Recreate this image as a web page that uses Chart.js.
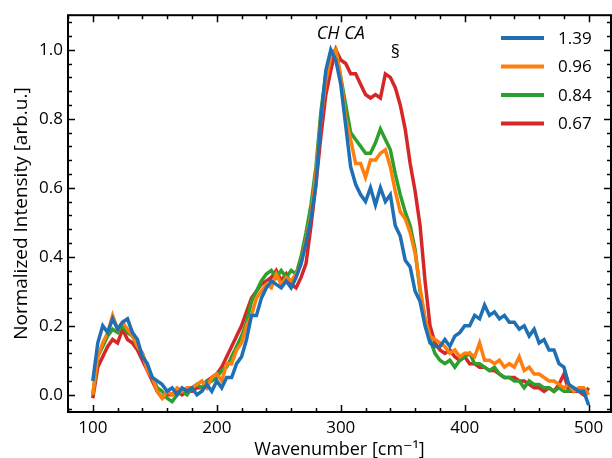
<!DOCTYPE html>
<html>
<head>
<meta charset="utf-8">
<script src="https://cdn.jsdelivr.net/npm/chart.js@4.4.1/dist/chart.umd.min.js"></script>
<style>
  html, body { margin: 0; padding: 0; background: #fff; }
  #wrap { width: 612px; height: 458px; }
</style>
</head>
<body>
<div id="wrap"><canvas id="chart" width="612" height="458"></canvas></div>
<script>
// wavenumber grid (cm^-1)
const wavenumber = [
  100,104,108,112,116,120,124,128,132,136,
  140,144,148,152,156,160,164,168,172,176,
  180,184,188,192,196,200,204,208,212,216,
  220,224,228,232,236,240,244,248,252,256,
  260,264,268,272,276,280,284,288,292,296,
  300,304,308,312,316,320,324,328,332,336,
  340,344,348,352,356,360,364,368,372,376,
  380,384,388,392,396,400,404,408,412,416,
  420,424,428,432,436,440,444,448,452,456,
  460,464,468,472,476,480,484,488,492,496,
  500
]

const s139 = [
  0.04,0.15,0.20,0.18,0.22,0.19,0.21,0.22,0.18,0.16,
  0.11,0.09,0.05,0.04,0.03,0.01,0.02,0.00,0.02,0.01,
  0.02,0.00,0.01,0.03,0.01,0.04,0.02,0.05,0.05,0.09,
  0.11,0.16,0.23,0.23,0.28,0.31,0.33,0.32,0.31,0.33,
  0.31,0.34,0.38,0.44,0.51,0.61,0.80,0.94,1.00,0.97,
  0.90,0.78,0.66,0.61,0.58,0.56,0.60,0.55,0.60,0.56,
  0.58,0.49,0.46,0.39,0.37,0.30,0.27,0.20,0.15,0.14,
  0.14,0.16,0.14,0.17,0.18,0.20,0.20,0.23,0.22,0.26,
  0.23,0.24,0.22,0.23,0.21,0.21,0.19,0.20,0.17,0.19,
  0.15,0.16,0.13,0.13,0.09,0.08,0.03,0.02,0.01,0.01,
  -0.03
]

const s096 = [
  0.00,0.11,0.15,0.18,0.23,0.19,0.21,0.19,0.17,0.14,
  0.12,0.07,0.05,0.01,-0.01,0.01,0.00,0.02,0.01,0.02,
  0.02,0.03,0.04,0.02,0.05,0.06,0.04,0.09,0.09,0.13,
  0.15,0.20,0.23,0.28,0.30,0.32,0.31,0.35,0.32,0.34,
  0.33,0.35,0.38,0.45,0.52,0.64,0.80,0.91,0.98,1.00,
  0.92,0.80,0.74,0.67,0.67,0.63,0.68,0.68,0.70,0.71,
  0.66,0.59,0.53,0.51,0.47,0.41,0.31,0.22,0.17,0.16,
  0.15,0.14,0.12,0.13,0.11,0.12,0.12,0.11,0.15,0.10,
  0.10,0.09,0.10,0.08,0.09,0.08,0.11,0.07,0.08,0.06,
  0.06,0.05,0.04,0.04,0.03,0.02,0.03,0.01,0.02,0.02,
  0.00
]

const s084 = [
  0.00,0.11,0.14,0.17,0.19,0.18,0.20,0.18,0.17,0.14,
  0.12,0.08,0.05,0.02,0.01,-0.01,-0.02,0.00,0.01,0.00,
  0.02,0.03,0.02,0.04,0.04,0.05,0.07,0.08,0.11,0.14,
  0.17,0.21,0.27,0.30,0.33,0.35,0.36,0.34,0.36,0.34,
  0.36,0.35,0.40,0.47,0.55,0.66,0.82,0.93,0.99,1.00,
  0.92,0.84,0.76,0.74,0.72,0.70,0.70,0.73,0.77,0.74,
  0.71,0.64,0.58,0.53,0.49,0.42,0.30,0.22,0.16,0.12,
  0.10,0.09,0.10,0.08,0.10,0.11,0.12,0.09,0.09,0.08,
  0.07,0.08,0.06,0.05,0.05,0.04,0.04,0.02,0.04,0.03,
  0.03,0.02,0.02,0.01,0.02,0.01,0.01,0.02,0.01,0.01,
  0.01
]

const s067 = [
  -0.01,0.08,0.11,0.14,0.16,0.15,0.19,0.16,0.15,0.13,
  0.10,0.07,0.04,0.01,-0.01,0.00,0.00,0.01,0.00,0.01,
  0.01,0.02,0.02,0.04,0.05,0.06,0.08,0.11,0.14,0.17,
  0.20,0.24,0.28,0.30,0.32,0.33,0.34,0.36,0.33,0.35,
  0.32,0.31,0.34,0.38,0.49,0.61,0.75,0.87,0.94,1.00,
  0.97,0.96,0.93,0.93,0.90,0.87,0.86,0.87,0.86,0.93,
  0.92,0.89,0.84,0.77,0.67,0.59,0.49,0.33,0.20,0.15,
  0.13,0.12,0.13,0.11,0.10,0.11,0.09,0.09,0.08,0.08,
  0.07,0.07,0.06,0.05,0.05,0.05,0.04,0.04,0.03,0.02,
  0.02,0.01,0.02,0.01,0.03,0.06,0.01,0.01,0.01,0.00,
  0.02
]

const seriesLabels = ['1.39', '0.96', '0.84', '0.67']
const seriesColors = ['#1f6fb4', '#ff7f0e', '#2ca02c', '#d62728']
const xTicks = [100, 200, 300, 400, 500]
const yTicks = [0.0, 0.2, 0.4, 0.6, 0.8, 1.0]
const peakLabels = [
  { text: 'CH CA', x: 300, y: 1.045 },
  { text: '§', x: 344, y: 0.99 },
]

const FONT = '"Open Sans", "DejaVu Sans", sans-serif'

const toPoints = ys => ys.map((y, i) => ({ x: wavenumber[i], y }))

const datasets = [s139, s096, s084, s067].map((ys, i) => ({
  label: seriesLabels[i],
  data: toPoints(ys),
  borderColor: seriesColors[i],
  borderWidth: 3.5,
  pointRadius: 0,
  tension: 0,
  fill: false,
}))

// frame, inward ticks on all four sides, legend and peak labels
const framePlugin = {
  id: 'frame',
  afterDatasetsDraw(chart) {
    const { ctx, chartArea: a, scales: { x, y } } = chart
    ctx.save()
    ctx.strokeStyle = '#000'
    ctx.lineWidth = 2
    ctx.strokeRect(a.left, a.top, a.right - a.left, a.bottom - a.top)

    ctx.lineWidth = 1.5
    ctx.beginPath()
    for (let v = Math.ceil(x.min / 20) * 20; v <= x.max; v += 20) {
      const px = Math.round(x.getPixelForValue(v)) + 0.5
      const len = v % 100 === 0 ? 7 : 4
      ctx.moveTo(px, a.bottom); ctx.lineTo(px, a.bottom - len)
      ctx.moveTo(px, a.top); ctx.lineTo(px, a.top + len)
    }
    for (let k = Math.ceil(y.min / 0.04); k * 0.04 <= y.max; k++) {
      const py = Math.round(y.getPixelForValue(k * 0.04)) + 0.5
      const len = k % 5 === 0 ? 7 : 4
      ctx.moveTo(a.left, py); ctx.lineTo(a.left + len, py)
      ctx.moveTo(a.right, py); ctx.lineTo(a.right - len, py)
    }
    ctx.stroke()

    // legend
    ctx.font = '17px ' + FONT
    ctx.textBaseline = 'middle'
    ctx.textAlign = 'left'
    chart.data.datasets.forEach((ds, i) => {
      const ry = 38 + i * 28.5
      ctx.strokeStyle = ds.borderColor
      ctx.lineWidth = 4
      ctx.beginPath()
      ctx.moveTo(501, ry); ctx.lineTo(544, ry)
      ctx.stroke()
      ctx.fillStyle = '#000'
      ctx.fillText(ds.label, 558, ry + 1)
    })

    // peak labels
    ctx.textAlign = 'center'
    peakLabels.forEach((p, i) => {
      ctx.font = (i === 0 ? 'italic 18px ' : '18px ') + FONT
      ctx.fillText(p.text, x.getPixelForValue(p.x), y.getPixelForValue(p.y))
    })
    ctx.restore()
  }
}

new Chart(document.getElementById('chart'), {
  type: 'line',
  data: { datasets },
  options: {
    responsive: false,
    animation: false,
    devicePixelRatio: 1,
    layout: { padding: { top: 13, right: 1, left: 0, bottom: 0 } },
    plugins: {
      legend: { display: false },
      tooltip: { enabled: false },
    },
    scales: {
      x: {
        type: 'linear',
        min: 80,
        max: 518,
        grid: { display: false, drawTicks: false },
        border: { display: false },
        afterBuildTicks: s => { s.ticks = xTicks.map(v => ({ value: v })) },
        afterFit: s => { s.height = 46 },
        ticks: { color: '#000', font: { family: FONT, size: 17 }, padding: 6, maxRotation: 0 },
        title: {
          display: true,
          text: 'Wavenumber [cm⁻¹]',
          color: '#000',
          font: { family: FONT, size: 18 },
          padding: { top: 0, bottom: -3 },
        },
      },
      y: {
        min: -0.05,
        max: 1.1,
        grid: { display: false, drawTicks: false },
        border: { display: false },
        afterBuildTicks: s => { s.ticks = yTicks.map(v => ({ value: v })) },
        afterFit: s => { s.width = 68 },
        ticks: {
          color: '#000',
          font: { family: FONT, size: 17 },
          padding: 5,
          callback: v => v.toFixed(1),
        },
        title: {
          display: true,
          text: 'Normalized Intensity [arb.u.]',
          color: '#000',
          font: { family: FONT, size: 19 },
          padding: { top: 10, bottom: 0 },
        },
      },
    },
  },
  plugins: [framePlugin],
})
</script>
</body>
</html>
